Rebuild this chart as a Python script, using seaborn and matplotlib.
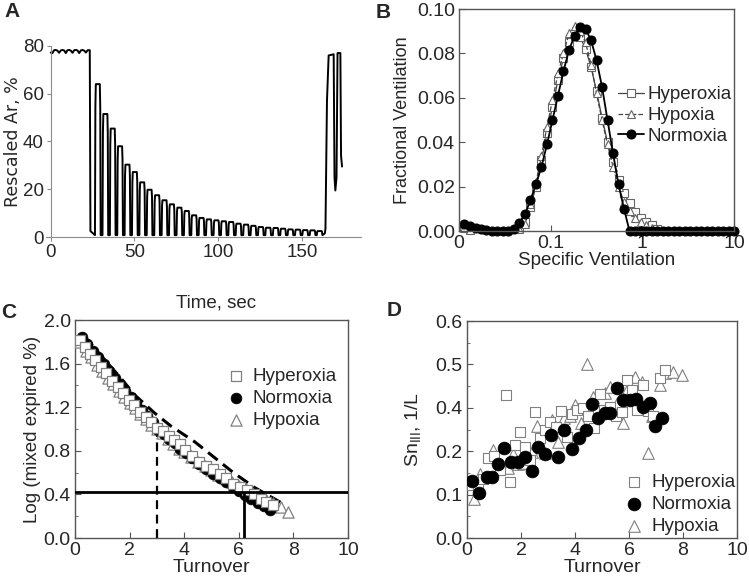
import numpy as np
import seaborn as sns
import matplotlib.pyplot as plt
from matplotlib.ticker import MultipleLocator

# ---------------- data ----------------
# A: argon washout / washin trace
init_t = [0, 1, 2, 3, 4, 5, 6, 7, 8, 9, 10, 11, 12, 13, 14, 15, 16, 17, 18, 19, 20, 21, 22, 23.3]
init_v = [77.2, 77.0, 78.2, 78.3, 78.0, 77.1, 78.1, 78.3, 78.1, 77.0, 78.2, 78.3,
          78.0, 77.1, 78.2, 78.3, 78.1, 77.0, 78.1, 78.3, 78.0, 77.2, 78.2, 78.2]
breath_t = [28.1, 32.6, 37.0, 41.4, 45.8, 50.2, 54.6, 59.0, 63.5, 67.9, 72.3, 76.8,
            81.2, 85.6, 90.0, 94.4, 98.9, 103.3, 107.7, 112.1, 116.6, 121.0, 125.4,
            129.8, 134.3, 138.7, 143.1, 147.5, 151.9, 156.3, 160.5]
breath_peak = [64.0, 51.5, 45.4, 38.0, 30.3, 27.2, 22.9, 19.8, 17.5, 15.4, 13.7, 12.3,
               10.9, 9.1, 8.0, 7.4, 7.0, 6.6, 6.3, 5.6, 5.2, 4.7, 4.2, 3.9, 3.8, 3.5,
               3.2, 3.1, 2.9, 2.8, 2.5]
first_trough = 2.5
trough = 0.8
end_t = [163.6, 164.0, 164.9, 165.9, 168.9, 169.4, 169.9, 170.6, 171.2, 172.9, 173.3, 173.9]
end_v = [1.5, 3.5, 57.0, 76.0, 76.5, 25.0, 19.5, 25.0, 77.0, 77.0, 34.0, 29.5]

# B: specific ventilation distributions (50 log bins)
sv_bins = [0.01148, 0.01318, 0.01514, 0.01738, 0.01995, 0.02291, 0.02630, 0.03020,
           0.03467, 0.03981, 0.04571, 0.05248, 0.06026, 0.06918, 0.07943, 0.09120,
           0.1047, 0.1202, 0.1380, 0.1585, 0.1820, 0.2089, 0.2399, 0.2754, 0.3162,
           0.3631, 0.4169, 0.4786, 0.5495, 0.6310, 0.7244, 0.8318, 0.9550, 1.096,
           1.259, 1.445, 1.660, 1.905, 2.188, 2.512, 2.884, 3.311, 3.802, 4.365,
           5.012, 5.754, 6.607, 7.586, 8.710, 10.0]
nan = np.nan
fv_normoxia = [0.0032, 0.0022, 0.0013, 0.0007, 0.0003, 0, 0, 0, 0, 0.0008, 0.0037,
               0.0075, 0.014, 0.021, 0.029, 0.039, 0.050, 0.061, 0.072, 0.0815, 0.088,
               0.092, 0.091, 0.086, 0.077, 0.065, 0.050, 0.035, 0.021, 0.010,
               0, 0, 0, 0, 0, 0, 0, 0, 0, 0, 0, 0, 0, 0, 0, 0, 0, 0, 0, 0]
fv_hyperoxia = [0.0018, 0.0008, nan, nan, nan, nan, nan, nan, nan, nan, 0.0012,
                0.004, 0.011, 0.020, 0.032, 0.044, 0.056, 0.068, 0.078, 0.085, 0.088,
                0.0875, 0.082, 0.074, 0.063, 0.051, 0.040, 0.031, 0.023, 0.017,
                0.0125, 0.0087, 0.006, 0.004, 0.0025, 0.001,
                nan, nan, nan, nan, nan, nan, nan, nan, nan, nan, nan, nan, nan, nan]
fv_hypoxia = [0.0012, 0.0005, nan, nan, nan, nan, nan, nan, nan, nan, 0.0008,
              0.003, 0.012, 0.022, 0.034, 0.047, 0.059, 0.071, 0.080, 0.089, 0.0925,
              0.090, 0.085, 0.075, 0.062, 0.050, 0.039, 0.029, 0.020, 0.013,
              0.009, 0.006, 0.004, 0.0025, 0.0012, 0.0003,
              nan, nan, nan, nan, nan, nan, nan, nan, nan, nan, nan, nan, nan, nan]

# C: log mixed expired vs turnover
c_hyper_x = [0.18, 0.37, 0.55, 0.73, 0.95, 1.15, 1.35, 1.57, 1.77, 1.97, 2.18, 2.38, 2.6,
             2.8, 3.02, 3.24, 3.44, 3.64, 3.84, 4.03, 4.3, 4.55, 4.8, 5.05, 5.3, 5.55,
             5.8, 6.05, 6.3, 6.55, 6.8, 7.0, 7.27]
c_hyper_y = [1.82, 1.755, 1.69, 1.63, 1.57, 1.51, 1.44, 1.39, 1.33, 1.27, 1.22, 1.16, 1.11,
             1.06, 1.01, 0.98, 0.94, 0.90, 0.86, 0.81, 0.75, 0.70, 0.66, 0.63, 0.59, 0.55,
             0.50, 0.47, 0.44, 0.40, 0.36, 0.33, 0.30]
c_norm_x = [0.25, 0.45, 0.65, 0.85, 1.05, 1.25, 1.45, 1.65, 1.85, 2.05, 2.25, 2.45, 2.65,
            2.85, 3.05, 3.25, 3.45, 3.65, 3.85, 4.05, 4.3, 4.55, 4.8, 5.05, 5.3, 5.55,
            5.8, 6.0, 6.23, 6.45, 6.7, 6.92, 7.14]
c_norm_y = [1.84, 1.78, 1.72, 1.66, 1.60, 1.53, 1.47, 1.41, 1.35, 1.29, 1.23, 1.17, 1.12,
            1.06, 0.99, 0.95, 0.91, 0.87, 0.82, 0.78, 0.73, 0.68, 0.63, 0.59, 0.55, 0.51,
            0.47, 0.43, 0.39, 0.36, 0.32, 0.29, 0.26]
c_hypo_x = [0.2, 0.4, 0.6, 0.8, 1.0, 1.2, 1.4, 1.6, 1.8, 2.0, 2.2, 2.4, 2.6, 2.8, 3.0, 3.2,
            3.4, 3.6, 3.8, 4.0, 4.25, 4.5, 4.75, 5.0, 5.25, 5.5, 5.75, 6.0, 6.25, 6.5,
            6.75, 7.0, 7.25, 7.55, 7.82]
c_hypo_y = [1.80, 1.72, 1.66, 1.59, 1.53, 1.47, 1.41, 1.35, 1.29, 1.24, 1.19, 1.14, 1.09,
            1.04, 1.00, 0.96, 0.91, 0.86, 0.82, 0.79, 0.74, 0.70, 0.66, 0.62, 0.58, 0.55,
            0.51, 0.48, 0.45, 0.41, 0.38, 0.35, 0.32, 0.28, 0.235]
pred_x = [0.35, 1.0, 1.6, 2.2, 2.9, 3.5, 4.1, 4.4, 5.1, 5.8, 6.6, 7.65]
pred_y = [1.85, 1.66, 1.49, 1.31, 1.15, 1.03, 0.93, 0.88, 0.74, 0.60, 0.46, 0.31]
log_threshold = 0.42
turnover_half = 3.0
turnover_half_level = 0.97
turnover_end = 6.2

# D: Sn_III vs turnover
d_hyper_x = [0.17, 0.42, 0.6, 0.79, 1.0, 1.22, 1.45, 1.58, 1.78, 1.96, 2.15, 2.33, 2.52,
             2.7, 2.89, 3.07, 3.28, 3.48, 3.69, 3.88, 4.06, 4.31, 4.49, 4.7, 4.91, 5.08,
             5.3, 5.5, 5.73, 5.91, 6.1, 6.28, 6.53, 6.72, 6.9, 7.15, 7.33]
d_hyper_y = [0.122, 0.12, 0.137, 0.184, 0.188, 0.157, 0.329, 0.13, 0.214, 0.245, 0.21,
             0.18, 0.291, 0.23, 0.248, 0.268, 0.255, 0.292, 0.233, 0.285, 0.295, 0.299,
             0.28, 0.253, 0.331, 0.295, 0.302, 0.28, 0.29, 0.364, 0.340, 0.294, 0.352,
             0.293, 0.28, 0.369, 0.387]
d_norm_x = [0.2, 0.45, 0.73, 0.92, 1.16, 1.38, 1.63, 1.88, 2.15, 2.4, 2.64, 2.89, 3.11,
            3.38, 3.6, 3.88, 4.15, 4.4, 4.62, 4.86, 5.1, 5.3, 5.55, 5.79, 6.02, 6.26,
            6.5, 6.76, 6.97, 7.21]
d_norm_y = [0.132, 0.104, 0.14, 0.141, 0.17, 0.208, 0.174, 0.176, 0.187, 0.154, 0.209,
            0.194, 0.237, 0.186, 0.249, 0.204, 0.231, 0.249, 0.308, 0.277, 0.287, 0.289,
            0.346, 0.318, 0.318, 0.321, 0.302, 0.311, 0.259, 0.277]
d_hypo_x = [0.27, 0.48, 0.98, 1.5, 1.72, 1.9, 2.09, 2.4, 2.6, 2.89, 3.14, 3.36, 3.6, 3.8,
            4.0, 4.22, 4.46, 4.68, 5.11, 5.3, 5.54, 5.79, 5.98, 6.23, 6.47, 6.7, 6.84,
            7.15, 7.33, 7.64, 7.95]
d_hypo_y = [0.089, 0.147, 0.203, 0.162, 0.193, 0.17, 0.172, 0.199, 0.258, 0.195, 0.273,
            0.222, 0.276, 0.281, 0.306, 0.264, 0.402, 0.326, 0.333, 0.349, 0.31, 0.264,
            0.346, 0.37, 0.36, 0.197, 0.28, 0.353, 0.381, 0.383, 0.376]
d_ytick_labels = ['0.0', '0.1', '0.2', '0.4', '0.5', '0.6']

# ---------------- style ----------------
sns.set_style("ticks")
plt.rcParams['font.family'] = ['Liberation Sans', 'DejaVu Sans']
plt.rcParams['font.size'] = 13
spine_col = '#555555'
gray = '#808080'

fig = plt.figure(figsize=(7.49, 5.81), dpi=100)
axA = fig.add_axes([0.0617, 0.592, 0.4198, 0.329])
axB = fig.add_axes([0.6128, 0.6024, 0.3672, 0.3821])
axC = fig.add_axes([0.1001, 0.074, 0.3645, 0.3752])
axD = fig.add_axes([0.6235, 0.074, 0.3605, 0.3735])

# ---------------- A ----------------
tr_t = list(init_t) + [23.7]
tr_v = list(init_v) + [first_trough]
for tc, pk in zip(breath_t, breath_peak):
    # one breath: inspiration trough, quick rise, expiratory plateau, quick fall
    tr_t += [tc - 1.7, tc - 1.45, tc - 1.2, tc + 1.2, tc + 1.45, tc + 1.7]
    tr_v += [trough, pk * 0.85, pk, pk, pk * 0.85, trough]
tr_t += end_t
tr_v += end_v
sns.lineplot(x=tr_t, y=tr_v, sort=False, estimator=None, color='black', lw=1.4, ax=axA)
axA.set_xlim(-2.7, 185)
axA.set_ylim(0, 80)
axA.spines['left'].set_position(('data', 0))
for s in ['top', 'right']:
    axA.spines[s].set_visible(False)
for s in ['left', 'bottom']:
    axA.spines[s].set_color('#8c8c8c')
axA.set_xticks([0, 50, 100, 150])
axA.set_yticks([0, 20, 40, 60, 80])
axA.tick_params(length=3, color='#8c8c8c', labelsize=13.5, pad=2)
axA.set_ylabel('Rescaled Ar, %', family='DejaVu Sans', fontsize=12.5)
axA.yaxis.set_label_coords(-0.078, 0.5)
axA.set_xlabel('Time, sec', fontsize=13.5)
axA.xaxis.set_label_coords(0.54, -0.30)

# ---------------- B ----------------
sns.lineplot(x=sv_bins, y=fv_hyperoxia, ax=axB, color='#444444', lw=0.9, marker='s',
             markersize=6, markerfacecolor='white', markeredgecolor='#666666',
             markeredgewidth=0.8, label='Hyperoxia', clip_on=False)
sns.lineplot(x=sv_bins, y=fv_hypoxia, ax=axB, color='#444444', lw=0.9, linestyle='--',
             marker='^', markersize=6, markerfacecolor='white', markeredgecolor='#666666',
             markeredgewidth=0.8, label='Hypoxia', clip_on=False)
sns.lineplot(x=sv_bins, y=fv_normoxia, ax=axB, color='black', lw=1.3, marker='o',
             markersize=6.5, markerfacecolor='black', markeredgecolor='black',
             label='Normoxia', clip_on=False)
axB.set_xscale('log')
axB.set_xlim(0.01, 10)
axB.set_ylim(0, 0.1)
axB.set_xticks([0.01, 0.1, 1, 10], ['0', '0.1', '1', '10'])
axB.xaxis.set_minor_locator(plt.NullLocator())
axB.set_yticks([0, 0.02, 0.04, 0.06, 0.08, 0.10])
axB.set_yticklabels(['0.00', '0.02', '0.04', '0.06', '0.08', '0.10'])
axB.set_xlabel('Specific Ventilation', labelpad=0, fontsize=13.5)
axB.set_ylabel('Fractional Ventilation', fontsize=13)
axB.legend(loc='center left', bbox_to_anchor=(0.53, 0.52), frameon=False,
           handlelength=1.4, handletextpad=0.2, labelspacing=0.2, borderpad=0.2,
           fontsize=13.5)

# ---------------- C ----------------
sns.scatterplot(x=c_hypo_x, y=c_hypo_y, ax=axC, marker='^', s=65, color='white',
                edgecolor=gray, linewidth=0.9, label='Hypoxia', zorder=3)
sns.scatterplot(x=c_norm_x, y=c_norm_y, ax=axC, marker='o', s=60, color='black',
                edgecolor='black', linewidth=0.5, label='Normoxia', zorder=4)
sns.scatterplot(x=c_hyper_x, y=c_hyper_y, ax=axC, marker='s', s=48, color='white',
                edgecolor=gray, linewidth=0.9, label='Hyperoxia', zorder=5)
sns.lineplot(x=pred_x, y=pred_y, ax=axC, color='black', lw=2.2,
             linestyle=(0, (4, 2.2)), zorder=2)
axC.axhline(log_threshold, color='black', lw=2, zorder=6)
axC.vlines(turnover_end, 0, log_threshold, color='black', lw=2, zorder=6)
axC.vlines(turnover_half, 0, turnover_half_level, color='black', lw=1.6,
           linestyles=(0, (4, 2.5)), zorder=2)
axC.set_xlim(0, 10)
axC.set_ylim(0, 2.0)
axC.set_xticks([0, 2, 4, 6, 8, 10])
axC.set_yticks([0, 0.4, 0.8, 1.2, 1.6, 2.0])
axC.set_yticklabels(['0.0', '0.4', '0.8', '1.2', '1.6', '2.0'])
axC.yaxis.set_minor_locator(MultipleLocator(0.2))
axC.set_xlabel('Turnover', labelpad=0, fontsize=14)
axC.set_ylabel('Log (mixed expired %)', fontsize=13.5, labelpad=2)

# ---------------- D ----------------
sns.scatterplot(x=d_hypo_x, y=d_hypo_y, ax=axD, marker='^', s=70, color='white',
                edgecolor=gray, linewidth=0.8, label='Hypoxia', zorder=3)
sns.scatterplot(x=d_hyper_x, y=d_hyper_y, ax=axD, marker='s', s=42, color='white',
                edgecolor=gray, linewidth=0.8, label='Hyperoxia', zorder=4)
sns.scatterplot(x=d_norm_x, y=d_norm_y, ax=axD, marker='o', s=85, color='black',
                edgecolor='black', linewidth=0.5, label='Normoxia', zorder=5)
axD.set_xlim(0, 10)
axD.set_ylim(0, 0.5)
axD.set_xticks([0, 2, 4, 6, 8, 10])
axD.set_yticks([0, 0.1, 0.2, 0.3, 0.4, 0.5])
axD.set_yticklabels(d_ytick_labels)
axD.yaxis.set_minor_locator(MultipleLocator(0.05))
axD.set_xlabel('Turnover', labelpad=0, fontsize=14)
axD.set_ylabel('Sn$_{\\mathregular{III}}$, 1/L', fontsize=14, labelpad=8)

# common box styling for B, C, D
for ax in [axB, axC, axD]:
    for s in ax.spines.values():
        s.set_color(spine_col)
        s.set_linewidth(1.0)
    ax.tick_params(which='major', direction='in', length=4, color=spine_col,
                   labelsize=14, pad=3)
    ax.tick_params(which='minor', direction='in', length=2.5, color=spine_col)

order = ['Hyperoxia', 'Normoxia', 'Hypoxia']
for ax, anchor in [(axC, (0.50, 0.84)), (axD, (0.53, 0.355))]:
    h, l = ax.get_legend_handles_labels()
    hd = dict(zip(l, h))
    ax.legend([hd[k] for k in order], order, loc='upper left', bbox_to_anchor=anchor,
              frameon=False, handletextpad=0.3, labelspacing=0.25, borderpad=0.2,
              fontsize=13.5, handlelength=1.2)

# panel letters
for x, y, t in [(0.006, 0.997, 'A'), (0.502, 0.995, 'B'),
                (0.002, 0.478, 'C'), (0.516, 0.482, 'D')]:
    fig.text(x, y, t, fontsize=15, fontweight='bold', va='top', ha='left')

fig.savefig('out.png', dpi=100)
